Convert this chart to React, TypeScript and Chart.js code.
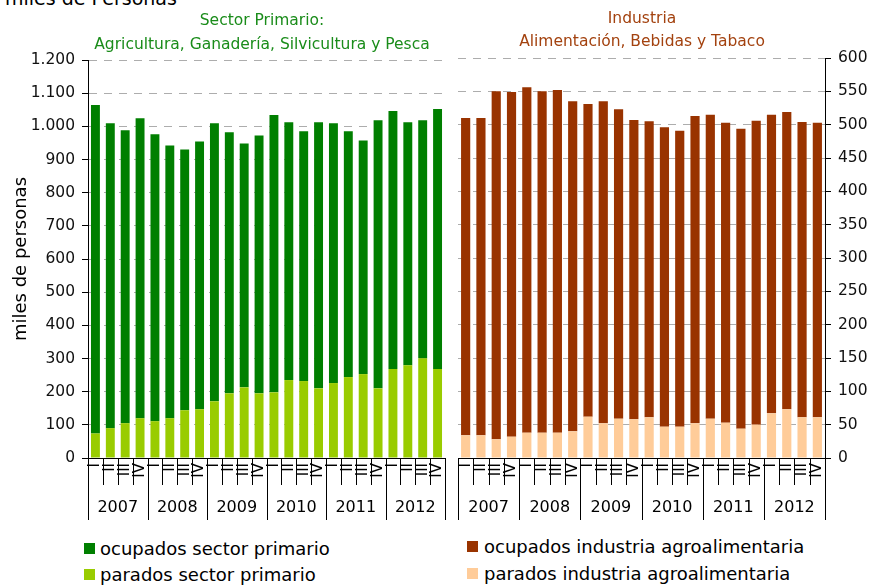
import React, { useEffect, useRef } from 'react';
import { Chart, registerables } from 'chart.js';

Chart.register(...registerables);

const quarters = [
  'I', 'II', 'III', 'IV', 'I', 'II', 'III', 'IV', 'I', 'II', 'III', 'IV',
  'I', 'II', 'III', 'IV', 'I', 'II', 'III', 'IV', 'I', 'II', 'III', 'IV',
];
const years = ['2007', '2008', '2009', '2010', '2011', '2012'];

// miles de personas (stacked: parados at the bottom, ocupados on top)
const primParados = [74, 90, 105, 120, 111, 120, 144, 147, 171, 195, 213, 195, 198, 235, 232, 210, 226, 244, 253, 210, 268, 280, 301, 268];
const primOcupados = [990, 919, 883, 904, 865, 822, 786, 807, 838, 787, 735, 777, 836, 777, 753, 802, 783, 741, 704, 808, 778, 732, 717, 784];
const indParados = [34, 34, 28, 32, 38, 38, 38, 40, 62, 52, 59, 58, 61, 47, 47, 52, 59, 53, 44, 50, 67, 73, 61, 61];
const indOcupados = [476, 476, 522, 517, 518, 512, 514, 495, 469, 483, 464, 449, 444, 449, 444, 461, 456, 450, 450, 456, 448, 446, 443, 442];

const FONT = '"DejaVu Sans", Verdana, sans-serif';
const C_OCU_P = '#007F00';
const C_PAR_P = '#99CC00';
const C_OCU_I = '#993300';
const C_PAR_I = '#FFCC99';

function formatMiles(v: number): string {
  const n = Math.round(v);
  if (n >= 1000) {
    return Math.floor(n / 1000) + '.' + String(n % 1000).padStart(3, '0');
  }
  return String(n);
}

const groupedXPlugin = {
  id: 'groupedX',
  afterDraw(chart: any) {
    const xs = chart.scales.x;
    const ctx = chart.ctx as CanvasRenderingContext2D;
    const base = chart.chartArea.bottom;
    const labels = chart.data.labels as string[];
    const n = labels.length;
    const half = (xs.getPixelForValue(1) - xs.getPixelForValue(0)) / 2;
    ctx.save();
    ctx.strokeStyle = '#000';
    ctx.lineWidth = 1;
    for (let i = 0; i <= n; i++) {
      const raw = i < n ? xs.getPixelForValue(i) - half : xs.getPixelForValue(n - 1) + half;
      const bx = Math.round(raw) + 0.5;
      const len = i % 4 === 0 ? 62 : 27;
      ctx.beginPath();
      ctx.moveTo(bx, base);
      ctx.lineTo(bx, base + len);
      ctx.stroke();
    }
    ctx.fillStyle = '#000';
    ctx.font = '15px ' + FONT;
    for (let i = 0; i < n; i++) {
      const cx = xs.getPixelForValue(i);
      ctx.save();
      ctx.translate(cx, base + 5);
      ctx.rotate(-Math.PI / 2);
      ctx.textAlign = 'right';
      ctx.textBaseline = 'middle';
      ctx.fillText(labels[i], 0, 0);
      ctx.restore();
    }
    ctx.font = '16px ' + FONT;
    ctx.textAlign = 'center';
    ctx.textBaseline = 'middle';
    years.forEach((y, g) => {
      const cx = (xs.getPixelForValue(g * 4) + xs.getPixelForValue(g * 4 + 3)) / 2;
      ctx.fillText(y, cx, base + 50);
    });
    ctx.restore();
  },
};

function makeConfig(opts: {
  parados: number[];
  ocupados: number[];
  cPar: string;
  cOcu: string;
  max: number;
  step: number;
  position: 'left' | 'right';
  padding: any;
  axisWidth: number;
  withTitle: boolean;
}): any {
  return {
    type: 'bar',
    data: {
      labels: quarters,
      datasets: [
        {
          label: 'parados',
          data: opts.parados,
          backgroundColor: opts.cPar,
          borderWidth: 0,
          barPercentage: 0.6,
          categoryPercentage: 1,
        },
        {
          label: 'ocupados',
          data: opts.ocupados,
          backgroundColor: opts.cOcu,
          borderWidth: 0,
          barPercentage: 0.6,
          categoryPercentage: 1,
        },
      ],
    },
    options: {
      responsive: false,
      animation: false,
      devicePixelRatio: 1,
      layout: { padding: opts.padding },
      plugins: {
        legend: { display: false },
        tooltip: { enabled: false },
        title: { display: false },
      },
      scales: {
        x: {
          stacked: true,
          offset: true,
          grid: { display: false },
          border: { display: true, color: '#000', width: 1 },
          ticks: { display: false },
          afterFit: (s: any) => {
            s.height = 67;
          },
        },
        y: {
          position: opts.position,
          stacked: true,
          min: 0,
          max: opts.max,
          ticks: {
            stepSize: opts.step,
            callback: (v: any) => formatMiles(Number(v)),
            font: { family: FONT, size: 15.5 },
            color: '#111',
            padding: 7,
          },
          grid: {
            color: '#adadad',
            lineWidth: 1,
            drawTicks: true,
            tickLength: 6,
            tickColor: '#000',
          },
          border: { display: true, color: '#000', width: 1, dash: [8, 7] },
          title: {
            display: opts.withTitle,
            text: 'miles de personas',
            color: '#000',
            font: { family: FONT, size: 18 },
            padding: { top: 11, bottom: 0 },
          },
          afterFit: (s: any) => {
            s.width = opts.axisWidth;
          },
        },
      },
    },
    plugins: [groupedXPlugin],
  };
}

const abs = (o: React.CSSProperties): React.CSSProperties => ({ position: 'absolute', ...o });

export default function App() {
  const leftRef = useRef<HTMLCanvasElement>(null);
  const rightRef = useRef<HTMLCanvasElement>(null);

  useEffect(() => {
    const left = new Chart(
      leftRef.current as HTMLCanvasElement,
      makeConfig({
        parados: primParados,
        ocupados: primOcupados,
        cPar: C_PAR_P,
        cOcu: C_OCU_P,
        max: 1200,
        step: 100,
        position: 'left',
        padding: { top: 60, right: 7, left: 0, bottom: 0 },
        axisWidth: 88,
        withTitle: true,
      })
    );
    const right = new Chart(
      rightRef.current as HTMLCanvasElement,
      makeConfig({
        parados: indParados,
        ocupados: indOcupados,
        cPar: C_PAR_I,
        cOcu: C_OCU_I,
        max: 600,
        step: 50,
        position: 'right',
        padding: { top: 58, right: 0, left: 18, bottom: 0 },
        axisWidth: 48,
        withTitle: false,
      })
    );
    return () => {
      left.destroy();
      right.destroy();
    };
  }, []);

  const text: React.CSSProperties = { fontFamily: FONT, whiteSpace: 'nowrap' };

  return (
    <div style={abs({ left: 0, top: 0, width: 873, height: 585, overflow: 'hidden', background: '#fff' })}>
      <div style={abs({ ...text, left: 5, top: -12, fontSize: 19, lineHeight: '20px', color: '#000' })}>
        miles de Personas
      </div>

      <canvas ref={leftRef} width={452} height={525} style={abs({ left: 0, top: 0, width: 452, height: 525 })} />
      <canvas ref={rightRef} width={433} height={525} style={abs({ left: 440, top: 0, width: 433, height: 525 })} />

      <div style={abs({ ...text, left: 62, width: 400, top: 10, textAlign: 'center', fontSize: 15.5, lineHeight: '20px', color: '#1a8c1a' })}>
        Sector Primario:
      </div>
      <div style={abs({ ...text, left: 62, width: 400, top: 34, textAlign: 'center', fontSize: 15.5, lineHeight: '20px', color: '#1a8c1a' })}>
        Agricultura, Ganadería, Silvicultura y Pesca
      </div>
      <div style={abs({ ...text, left: 442, width: 400, top: 8, textAlign: 'center', fontSize: 15.5, lineHeight: '20px', color: '#a3420f' })}>
        Industria
      </div>
      <div style={abs({ ...text, left: 442, width: 400, top: 31, textAlign: 'center', fontSize: 15.5, lineHeight: '20px', color: '#a3420f' })}>
        Alimentación, Bebidas y Tabaco
      </div>

      <div style={abs({ left: 84, top: 543, width: 11, height: 11, background: C_OCU_P })} />
      <div style={abs({ ...text, left: 100, top: 539, fontSize: 18, lineHeight: '20px', color: '#000' })}>
        ocupados sector primario
      </div>
      <div style={abs({ left: 84, top: 569, width: 11, height: 11, background: C_PAR_P })} />
      <div style={abs({ ...text, left: 100, top: 565, fontSize: 18, lineHeight: '20px', color: '#000' })}>
        parados sector primario
      </div>

      <div style={abs({ left: 467, top: 541, width: 11, height: 11, background: C_OCU_I })} />
      <div style={abs({ ...text, left: 484, top: 537, fontSize: 18, lineHeight: '20px', color: '#000' })}>
        ocupados industria agroalimentaria
      </div>
      <div style={abs({ left: 467, top: 568, width: 11, height: 11, background: C_PAR_I })} />
      <div style={abs({ ...text, left: 484, top: 564, fontSize: 18, lineHeight: '20px', color: '#000' })}>
        parados industria agroalimentaria
      </div>
    </div>
  );
}
